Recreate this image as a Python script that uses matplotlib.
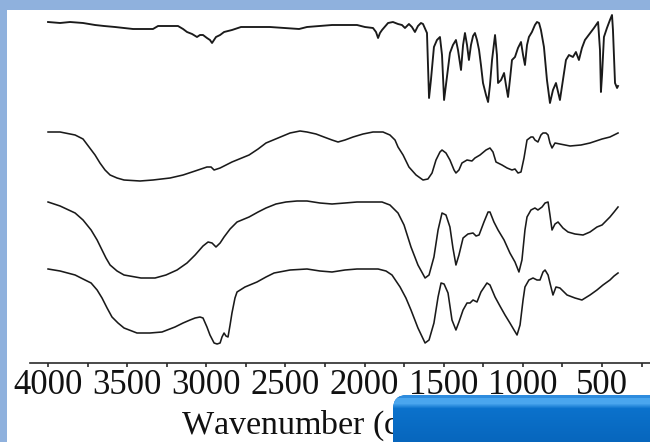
import numpy as np
import matplotlib
matplotlib.use("Agg")
import matplotlib.pyplot as plt
from matplotlib.patches import Rectangle, FancyBboxPatch
from matplotlib.transforms import IdentityTransform
from matplotlib.ticker import MultipleLocator, FixedLocator

plt.rcParams['font.family'] = ['Liberation Serif', 'DejaVu Serif']
plt.rcParams['mathtext.fontset'] = 'stix'

# ---------------- data (wavenumber in cm-1, transmittance in a.u., stacked) ----------------
wn_a = [4000, 3924, 3861, 3779, 3703, 3646, 3577, 3463, 3337, 3305, 3229, 3179, 3147, 3122, 3090,
        3059, 3040, 3021, 2996, 2977, 2964, 2939, 2913, 2888, 2838, 2781, 2692, 2598, 2503, 2414,
        2364, 2282, 2206, 2124, 2048, 1998, 1947, 1928, 1915, 1903, 1890, 1852, 1821, 1789, 1764,
        1745, 1720, 1701, 1682, 1663, 1644, 1631, 1606, 1593, 1581, 1562, 1543, 1524, 1511, 1498,
        1486, 1461, 1442, 1423, 1410, 1391, 1378, 1366, 1353, 1341, 1328, 1315, 1303, 1290, 1277,
        1265, 1252, 1233, 1220, 1208, 1195, 1176, 1164, 1157, 1138, 1119, 1107, 1094, 1082, 1069,
        1050, 1031, 1012, 999, 987, 974, 962, 943, 924, 911, 898, 886, 867, 848, 829,
        810, 791, 778, 766, 747, 728, 709, 684, 665, 646, 627, 608, 589, 570, 551,
        525, 513, 507, 500, 488, 469, 450, 437, 431, 418, 405, 399]
t_a = [3.41, 3.40, 3.41, 3.40, 3.38, 3.37, 3.36, 3.34, 3.34, 3.37, 3.37, 3.37, 3.34, 3.31, 3.29,
       3.26, 3.28, 3.28, 3.25, 3.23, 3.20, 3.26, 3.28, 3.31, 3.33, 3.36, 3.36, 3.36, 3.35, 3.34,
       3.36, 3.37, 3.38, 3.38, 3.38, 3.36, 3.35, 3.31, 3.25, 3.30, 3.33, 3.40, 3.41, 3.39, 3.38,
       3.35, 3.39, 3.36, 3.31, 3.37, 3.40, 3.39, 3.30, 2.65, 2.83, 3.16, 3.23, 3.26, 3.08, 2.63,
       2.78, 3.10, 3.18, 3.23, 3.13, 2.93, 3.18, 3.30, 3.18, 3.03, 3.18, 3.27, 3.30, 3.23, 3.13,
       2.98, 2.80, 2.68, 2.61, 2.78, 3.03, 3.28, 3.08, 2.80, 2.83, 2.90, 2.78, 2.66, 2.83, 3.03,
       3.06, 3.15, 3.21, 3.08, 2.98, 3.18, 3.26, 3.31, 3.38, 3.41, 3.40, 3.33, 3.16, 2.83, 2.60,
       2.73, 2.80, 2.71, 2.63, 2.83, 3.03, 3.08, 3.06, 3.11, 3.03, 3.15, 3.23, 3.27, 3.31, 3.35,
       3.41, 3.13, 2.71, 2.88, 3.26, 3.35, 3.43, 3.48, 3.33, 2.80, 2.75, 2.77]

wn_b = [4000, 3924, 3829, 3779, 3741, 3703, 3672, 3640, 3608, 3564, 3520, 3419, 3337, 3229, 3147,
        3071, 2996, 2970, 2951, 2932, 2913, 2838, 2730, 2673, 2623, 2547, 2471, 2408, 2364, 2307,
        2257, 2206, 2168, 2124, 2073, 2010, 1947, 1884, 1840, 1808, 1789, 1757, 1720, 1675, 1631,
        1600, 1574, 1549, 1524, 1511, 1486, 1461, 1435, 1423, 1404, 1385, 1353, 1322, 1303, 1271,
        1233, 1208, 1189, 1170, 1132, 1100, 1069, 1050, 1031, 1012, 993, 974, 949, 936, 924,
        905, 886, 873, 854, 841, 829, 816, 797, 766, 702, 633, 576, 500, 450, 399]
t_b = [2.31, 2.31, 2.28, 2.24, 2.16, 2.08, 2.00, 1.93, 1.88, 1.85, 1.83, 1.82, 1.83, 1.85, 1.88,
       1.92, 1.96, 1.96, 1.93, 1.94, 1.95, 2.01, 2.08, 2.14, 2.20, 2.25, 2.30, 2.32, 2.31, 2.29,
       2.26, 2.23, 2.21, 2.23, 2.26, 2.29, 2.31, 2.31, 2.28, 2.23, 2.16, 2.08, 1.96, 1.88, 1.83,
       1.84, 1.90, 2.03, 2.11, 2.13, 2.10, 2.03, 1.93, 1.90, 1.93, 2.00, 2.03, 2.02, 2.05, 2.08,
       2.13, 2.15, 2.11, 2.01, 1.98, 1.95, 1.93, 1.94, 1.90, 1.91, 2.05, 2.23, 2.26, 2.26, 2.23,
       2.21, 2.28, 2.30, 2.30, 2.28, 2.20, 2.15, 2.20, 2.19, 2.17, 2.18, 2.20, 2.24, 2.26, 2.30]

wn_c = [4000, 3924, 3829, 3779, 3728, 3690, 3659, 3634, 3608, 3564, 3520, 3413, 3324, 3255, 3185,
        3122, 3071, 3021, 2989, 2964, 2939, 2913, 2888, 2850, 2806, 2730, 2673, 2623, 2560, 2497,
        2427, 2364, 2282, 2206, 2124, 2048, 1966, 1890, 1840, 1789, 1751, 1707, 1663, 1618, 1593,
        1562, 1536, 1511, 1486, 1461, 1442, 1423, 1404, 1378, 1347, 1315, 1296, 1277, 1246, 1220,
        1208, 1183, 1157, 1119, 1082, 1050, 1025, 1006, 987, 974, 949, 924, 905, 879, 860,
        841, 829, 816, 797, 778, 747, 715, 671, 620, 576, 532, 500, 450, 424, 399]
t_c = [1.61, 1.57, 1.50, 1.43, 1.33, 1.23, 1.13, 1.05, 0.98, 0.92, 0.88, 0.85, 0.85, 0.88, 0.93,
       1.00, 1.08, 1.17, 1.21, 1.20, 1.16, 1.20, 1.26, 1.34, 1.41, 1.46, 1.51, 1.55, 1.59, 1.61,
       1.62, 1.62, 1.60, 1.59, 1.60, 1.61, 1.61, 1.61, 1.58, 1.50, 1.38, 1.16, 0.98, 0.85, 0.88,
       1.06, 1.33, 1.50, 1.48, 1.36, 1.15, 0.98, 1.08, 1.25, 1.29, 1.30, 1.27, 1.28, 1.41, 1.51,
       1.51, 1.41, 1.33, 1.23, 1.10, 1.01, 0.91, 1.03, 1.33, 1.46, 1.53, 1.55, 1.53, 1.56, 1.60,
       1.61, 1.48, 1.33, 1.39, 1.41, 1.35, 1.31, 1.29, 1.28, 1.31, 1.36, 1.38, 1.46, 1.51, 1.56]

wn_d = [4000, 3924, 3829, 3779, 3728, 3690, 3659, 3627, 3596, 3558, 3520, 3438, 3356, 3280, 3198,
        3147, 3103, 3071, 3040, 3021, 2996, 2977, 2951, 2932, 2913, 2901, 2888, 2876, 2863, 2850,
        2838, 2819, 2806, 2756, 2680, 2623, 2572, 2471, 2364, 2282, 2206, 2124, 2048, 1966, 1915,
        1865, 1827, 1776, 1739, 1707, 1663, 1618, 1593, 1562, 1536, 1517, 1498, 1473, 1448, 1423,
        1404, 1378, 1353, 1334, 1315, 1290, 1265, 1227, 1208, 1176, 1145, 1113, 1082, 1056, 1037,
        1018, 999, 987, 962, 936, 911, 892, 873, 860, 841, 829, 810, 791, 766, 721, 671, 627,
        576, 532, 494, 450, 424, 399]
t_d = [0.94, 0.92, 0.88, 0.84, 0.80, 0.73, 0.65, 0.55, 0.46, 0.40, 0.35, 0.30, 0.30, 0.31, 0.36,
       0.40, 0.43, 0.45, 0.46, 0.45, 0.36, 0.28, 0.20, 0.19, 0.20, 0.26, 0.30, 0.27, 0.26, 0.38,
       0.50, 0.65, 0.71, 0.76, 0.81, 0.86, 0.90, 0.93, 0.94, 0.92, 0.91, 0.93, 0.94, 0.94, 0.94,
       0.92, 0.88, 0.76, 0.65, 0.53, 0.35, 0.20, 0.23, 0.40, 0.66, 0.80, 0.79, 0.70, 0.43, 0.33,
       0.41, 0.53, 0.60, 0.60, 0.63, 0.61, 0.71, 0.80, 0.78, 0.66, 0.57, 0.48, 0.40, 0.33, 0.28,
       0.38, 0.63, 0.76, 0.83, 0.85, 0.83, 0.83, 0.91, 0.93, 0.88, 0.80, 0.68, 0.76, 0.75, 0.68,
       0.65, 0.63, 0.68, 0.73, 0.78, 0.83, 0.87, 0.90]

major_ticks = [4000, 3500, 3000, 2500, 2000, 1500, 1000, 500]
tick_labels = ["4000", "3500", "3000", "2500", "2000", "1500", "1000", "500"]
x_label = "Wavenumber (cm$^{-1}$)"

# ---------------- figure ----------------
W, H, DPI = 650, 442, 100
fig = plt.figure(figsize=(W / DPI, H / DPI), dpi=DPI)
fig.patch.set_facecolor('#8FB1DD')
fig.patches.append(Rectangle((7 / W, 0), (W - 7) / W, (H - 10) / H, transform=fig.transFigure,
                             facecolor='white', edgecolor='none', zorder=-10))

ax = fig.add_axes([30 / W, (H - 363) / H, 620 / W, 353 / H])
ax.set_zorder(1)
ax.patch.set_alpha(0)

for wn, t, lw in [(wn_a, t_a, 1.35), (wn_b, t_b, 1.15), (wn_c, t_c, 1.15), (wn_d, t_d, 1.15)]:
    ax.plot(wn, t, color='#1a1a1a', lw=lw, solid_joinstyle='round')

ax.set_xlim(4114, 197)
ax.set_ylim(0, 3.53)
for s in ['top', 'right', 'left']:
    ax.spines[s].set_visible(False)
ax.spines['bottom'].set_linewidth(1.2)
ax.spines['bottom'].set_color('#2a2a2a')
ax.set_yticks([])
ax.xaxis.set_major_locator(FixedLocator(major_ticks))
ax.set_xticklabels(tick_labels)
ax.xaxis.set_minor_locator(MultipleLocator(250))
ax.tick_params(axis='x', which='major', direction='out', length=3, width=1.2, color='#2a2a2a',
               labelsize=25, pad=1, labelcolor='#111111')
ax.tick_params(axis='x', which='minor', direction='out', length=3, width=1.2, color='#2a2a2a')

ax.set_xlabel(x_label, fontsize=24.5, color='#111111')
ax.xaxis.set_label_coords(0.4745, (363 - 424) / 353)
ax.xaxis.label.set_va('center')

# ---------------- blue rounded button in the lower-right corner ----------------
box = FancyBboxPatch((393, -30), 300, 30 + (H - 395), boxstyle="round,pad=0,rounding_size=14",
                     transform=IdentityTransform(), facecolor='#0A6DC6', edgecolor='none', zorder=10)
fig.patches.append(box)
hgt = H - 395
grad = np.zeros((hgt, W - 393, 3))
top_c = np.array([0x2E, 0x8C, 0xDE]) / 255
hi_c = np.array([0x4A, 0xA6, 0xEE]) / 255
mid_c = np.array([0x0B, 0x72, 0xCC]) / 255
bot_c = np.array([0x07, 0x66, 0xBD]) / 255
for i in range(hgt):
    if i < 3:
        c = top_c
    elif i < 8:
        c = hi_c
    elif i < 13:
        f = (i - 8) / 5
        c = hi_c * (1 - f) + mid_c * f
    else:
        f = (i - 13) / max(1, hgt - 13)
        c = mid_c * (1 - f) + bot_c * f
    grad[i, :, :] = c
im = fig.figimage(grad, xo=393, yo=0, origin='upper', zorder=11)
im.set_clip_path(box)

fig.savefig('out.png', dpi=DPI, facecolor=fig.get_facecolor())
